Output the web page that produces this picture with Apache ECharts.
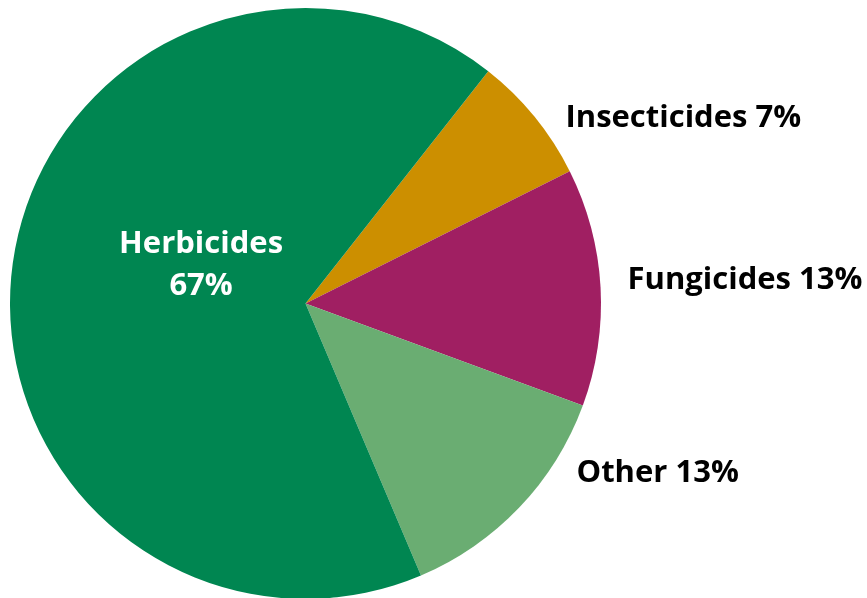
<!DOCTYPE html>
<html>
<head>
<meta charset="utf-8">
<script src="https://cdn.jsdelivr.net/npm/echarts@6/dist/echarts.min.js"></script>
<style>
  html, body { margin: 0; padding: 0; background: #fff; }
  #chart { width: 867px; height: 598px; }
</style>
</head>
<body>
<div id="chart"></div>
<script>
// 类别与占比（%）
const categories = ['Insecticides', 'Fungicides', 'Other', 'Herbicides']
const shares = [7, 13, 13, 67]
const colors = ['#CC8F00', '#A01F62', '#6AAD72', '#008651']

const myChart = echarts.init(document.getElementById('chart'))

// 标签微调（相对默认位置）
const nudge = {
  Insecticides: [31, 1],
  Fungicides: [27, -7],
  Other: [57, -34],
  Herbicides: [45, -18],
}

const data = categories.map((name, i) => {
  const inside = name === 'Herbicides'
  return {
    name,
    value: shares[i],
    itemStyle: { color: colors[i] },
    label: inside
      ? {
          position: 'inside',
          color: '#fff',
          formatter: '{b}\n{c}%',
          lineHeight: 42,
        }
      : {
          position: 'outside',
          color: '#000',
          formatter: '{b} {c}%',
          distanceToLabelLine: 0,
          edgeDistance: 0,
        },
    labelLine: { show: false, length: 0, length2: 0 },
  }
})

const option = {
  animation: false,
  series: [
    {
      type: 'pie',
      center: [305.5, 303.5],
      radius: 295.5,
      startAngle: 51.8,
      clockwise: true,
      avoidLabelOverlap: false,
      itemStyle: { borderWidth: 0 },
      label: {
        fontFamily: 'Open Sans',
        fontWeight: 'bold',
        fontSize: 31,
      },
      labelLayout: (params) => {
        const d = nudge[categories[params.dataIndex]]
        return { dx: d[0], dy: d[1] }
      },
      emphasis: { disabled: true },
      data,
    },
  ],
}

myChart.setOption(option)
</script>
</body>
</html>
